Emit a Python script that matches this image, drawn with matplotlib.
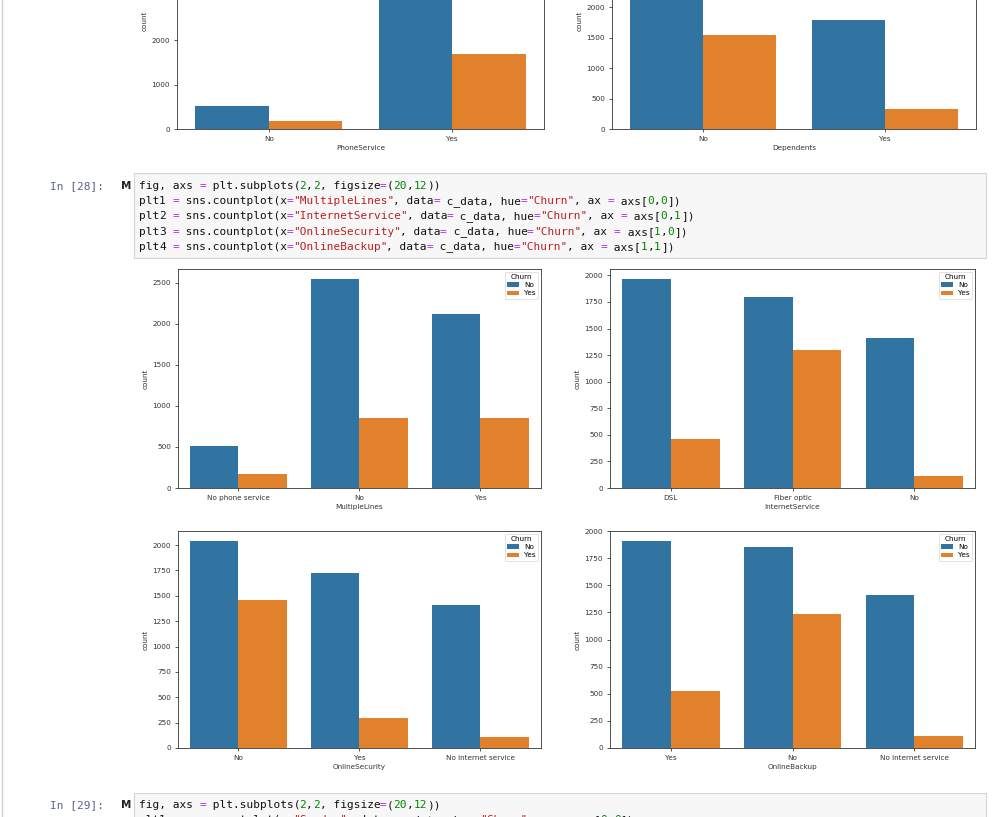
import re
import matplotlib
matplotlib.use("Agg")
import matplotlib.pyplot as plt
from matplotlib.patches import Rectangle
from matplotlib.lines import Line2D
from matplotlib.ticker import MultipleLocator

W, H = 1000, 817

# --- data (counts by Churn = No / Yes) ---
hue_levels = ["No", "Yes"]

phone_cats = ["No", "Yes"]
phone_no = [512, 4662]
phone_yes = [170, 1699]

dep_cats = ["No", "Yes"]
dep_no = [3390, 1784]
dep_yes = [1543, 326]

ml_cats = ["No phone service", "No", "Yes"]
ml_no = [512, 2541, 2121]
ml_yes = [170, 849, 850]

inet_cats = ["DSL", "Fiber optic", "No"]
inet_no = [1962, 1799, 1413]
inet_yes = [459, 1297, 113]

sec_cats = ["No", "Yes", "No internet service"]
sec_no = [2037, 1724, 1413]
sec_yes = [1461, 295, 113]

bak_cats = ["Yes", "No", "No internet service"]
bak_no = [1906, 1855, 1413]
bak_yes = [523, 1233, 113]

cell28 = [
    'fig, axs = plt.subplots(2,2, figsize=(20,12))',
    'plt1 = sns.countplot(x="MultipleLines", data= c_data, hue="Churn", ax = axs[0,0])',
    'plt2 = sns.countplot(x="InternetService", data= c_data, hue="Churn", ax = axs[0,1])',
    'plt3 = sns.countplot(x="OnlineSecurity", data= c_data, hue="Churn", ax = axs[1,0])',
    'plt4 = sns.countplot(x="OnlineBackup", data= c_data, hue="Churn", ax = axs[1,1])',
]
cell29 = [
    'fig, axs = plt.subplots(2,2, figsize=(20,12))',
    'plt1 = sns.countplot(x="Gender", data= c_data, hue="Churn", ax = axs[0,0])',
]

BLUE = "#3274a1"
ORANGE = "#e1812c"
FS = 5.2

plt.rcParams["font.family"] = "DejaVu Sans"
fig = plt.figure(figsize=(W / 100, H / 100), dpi=100)


def fx(x):
    return x / W


def fy(y):
    return 1 - y / H


def countplot(left, top, right, bottom, cats, no, yes, xlabel, step, legend=True):
    ax = fig.add_axes([fx(left), fy(bottom), (right - left) / W, (bottom - top) / H])
    xs = range(len(cats))
    ax.bar([x - 0.2 for x in xs], no, width=0.4, color=BLUE, label=hue_levels[0])
    ax.bar([x + 0.2 for x in xs], yes, width=0.4, color=ORANGE, label=hue_levels[1])
    ax.set_xlim(-0.5, len(cats) - 0.5)
    ax.set_ylim(0, max(max(no), max(yes)) * 1.05)
    ax.set_xticks(list(xs))
    ax.set_xticklabels(cats)
    ax.yaxis.set_major_locator(MultipleLocator(step))
    ax.tick_params(labelsize=FS, length=2.5, width=0.57, pad=2.5, colors="#333333")
    ax.set_xlabel(xlabel, fontsize=FS, labelpad=2.5, color="#333333")
    ax.set_ylabel("count", fontsize=FS, labelpad=2.5, color="#333333")
    for s in ax.spines.values():
        s.set_linewidth(0.6)
        s.set_color("#333333")
    if legend:
        lg = ax.legend(title="Churn", fontsize=FS, title_fontsize=FS, loc="upper right",
                       borderaxespad=0.4, handlelength=1.6, handleheight=0.6,
                       labelspacing=0.3, borderpad=0.3, framealpha=0.8)
        lg.get_frame().set_linewidth(0.5)
    return ax


# previous cell output (cut at the top of the screenshot)
countplot(177, -88, 544, 129, phone_cats, phone_no, phone_yes, "PhoneService", 1000, legend=False)
countplot(612, -88, 976, 129, dep_cats, dep_no, dep_yes, "Dependents", 500, legend=False)

# In [28] output
countplot(178, 269, 541, 488, ml_cats, ml_no, ml_yes, "MultipleLines", 500)
countplot(610, 269, 975, 488, inet_cats, inet_no, inet_yes, "InternetService", 250)
countplot(178, 531, 541, 748, sec_cats, sec_no, sec_yes, "OnlineSecurity", 250)
countplot(610, 531, 975, 748, bak_cats, bak_no, bak_yes, "OnlineBackup", 250)

# notebook chrome
fig.add_artist(Line2D([fx(2), fx(2)], [0, 1], color="#d0d0d0", lw=1))
for (y0, y1) in [(173, 258), (793, 840)]:
    fig.add_artist(Rectangle((fx(134), fy(y1)), (986 - 134) / W, (y1 - y0) / H,
                             facecolor="#f7f7f7", edgecolor="#d4d4d4", lw=0.8, zorder=0))

MONO = "DejaVu Sans Mono"
CFS = 8.0
CW = 0.602 * CFS * 100 / 72
tok_re = re.compile(r'"[^"]*"|\b\d+\b|=|[^"=\d]+|\d')


def code_line(x0, y, line):
    for m in tok_re.finditer(line):
        t = m.group(0)
        col = "#111111"
        if t.startswith('"'):
            col = "#ba2121"
        elif t.isdigit() and (m.start() == 0 or not line[m.start() - 1].isalpha()):
            col = "#008800"
        elif t == "=":
            col = "#aa22ff"
        fig.text(fx(x0 + m.start() * CW), fy(y), t, family=MONO, fontsize=CFS,
                 color=col, ha="left", va="center")


def cell(n, y_first, lines, step=15.2):
    fig.text(fx(50), fy(y_first), "In [%d]:" % n, family=MONO, fontsize=CFS,
             color="#5a6190", ha="left", va="center")
    fig.text(fx(121), fy(y_first), "M", family="DejaVu Sans", fontsize=CFS - 0.5, weight="bold",
             color="#222222", ha="left", va="center")
    for i, ln in enumerate(lines):
        code_line(139, y_first + i * step, ln)


cell(28, 186, cell28)
cell(29, 805, cell29)

fig.savefig("out.png", dpi=100, facecolor="white")
